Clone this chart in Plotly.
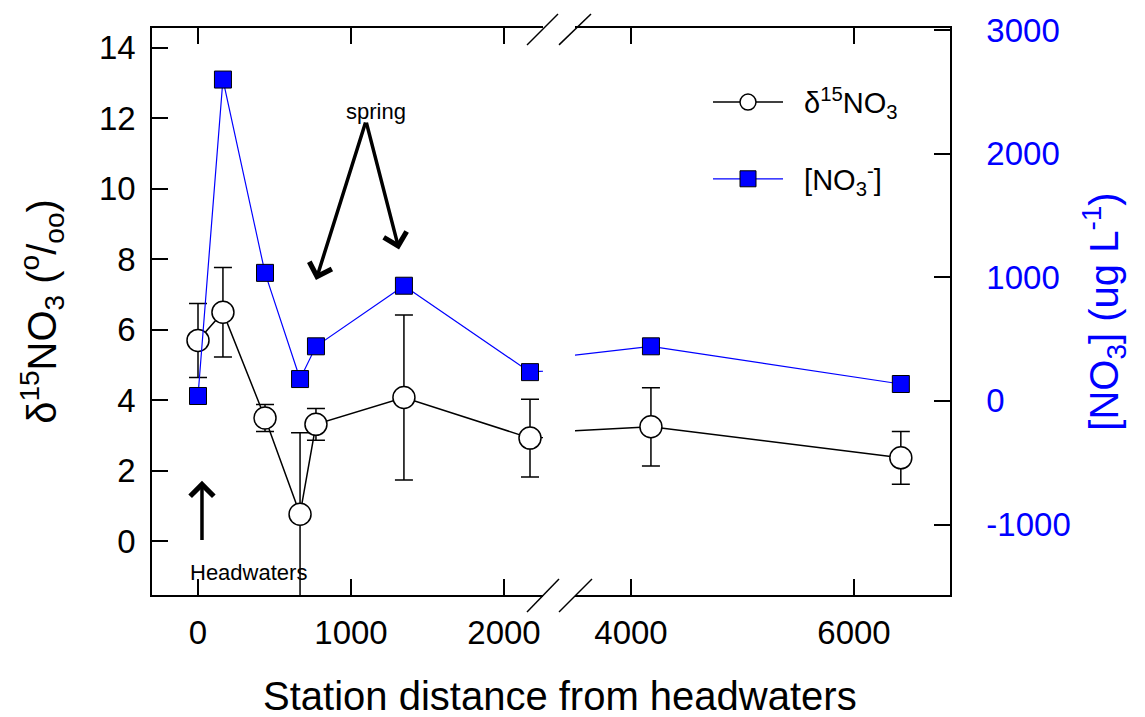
import plotly.graph_objects as go

# ---- data ----
distance = [0, 163, 438, 667, 771, 1346, 2170, 4179, 6420]
d15n = [5.7, 6.5, 3.5, 0.77, 3.32, 4.08, 2.93, 3.25, 2.37]
d15n_err = [1.05, 1.27, 0.38, 2.31, 0.45, 2.34, 1.1, 1.11, 0.75]
no3 = [40, 2600, 1036, 177, 442, 932, 233, 442, 137]

left_ticks = [0, 1000, 2000]
right_ticks = [4000, 6000]
y_ticks = [0, 2, 4, 6, 8, 10, 12, 14]
y2_ticks = [-1000, 0, 1000, 2000, 3000]
y2_tick_labels = ["-1000", "0", "1000", "2000", "3000"]

FONT = "Arial, Liberation Sans, sans-serif"
W, H = 1145, 717
L, R, T, B = 152, 950, 25, 595
BREAK_L, BREAK_R = 543, 575

def px(xp):
    return (xp - L) / (R - L)

def py(yp):
    return (B - yp) / (B - T)

fig = go.Figure()

for xa, show in (("x", True), ("x2", False)):
    fig.add_trace(go.Scatter(
        x=distance, y=d15n, xaxis=xa, yaxis="y",
        mode="lines+markers", name="&nbsp;&nbsp;δ<sup>15</sup>NO<sub>3</sub>",
        line=dict(color="black", width=1.5),
        marker=dict(symbol="circle", size=22, color="white",
                    line=dict(color="black", width=1.5)),
        error_y=dict(type="data", array=d15n_err, color="black",
                     thickness=1.5, width=9),
        showlegend=show, legendgroup="a", legendrank=1,
    ))
    fig.add_trace(go.Scatter(
        x=distance, y=no3, xaxis=xa, yaxis="y2",
        mode="lines+markers", name="&nbsp;&nbsp;[NO<sub>3</sub><sup>-</sup>]",
        line=dict(color="#0000ff", width=1.2),
        marker=dict(symbol="square", size=17, color="#0000ff",
                    line=dict(color="black", width=1)),
        showlegend=show, legendgroup="b", legendrank=2,
    ))

axis_common = dict(showline=True, linecolor="black", linewidth=1.5,
                   ticks="inside", tickcolor="black", tickwidth=1.5,
                   ticklen=16, showgrid=False, zeroline=False,
                   tickfont=dict(family=FONT, size=33, color="black"))

fig.update_layout(
    width=W, height=H, autosize=False,
    margin=dict(l=L, r=W - R, t=T, b=H - B),
    plot_bgcolor="white", paper_bgcolor="white",
    xaxis=dict(domain=[0, px(BREAK_L)], range=[-300.7, 2255],
               tickvals=left_ticks, mirror="ticks", anchor="y",
               ticklabelstandoff=8, **axis_common),
    xaxis2=dict(domain=[px(BREAK_R), 1], range=[3498, 6861],
                tickvals=right_ticks, mirror="ticks", anchor="y",
                ticklabelstandoff=8, **axis_common),
    yaxis=dict(range=[-1.52, 14.56], tickvals=y_ticks, anchor="x",
               side="left", ticklabelstandoff=8,
               title=dict(text="δ<sup>15</sup>NO<sub>3</sub> (<sup>o</sup>/<sub>oo</sub>)",
                          font=dict(family=FONT, size=40, color="black"),
                          standoff=30),
               **axis_common),
    yaxis2=dict(range=[-1570, 3017], tickvals=y2_ticks, ticktext=y2_tick_labels,
                anchor="x2", overlaying="y", side="right", ticklabelstandoff=28,
                title=dict(text="[NO<sub>3</sub>] (ug L<sup>-1</sup>)",
                           font=dict(family=FONT, size=40, color="#0000ff"),
                           standoff=20),
                **{**axis_common,
                   "tickfont": dict(family=FONT, size=33, color="#0000ff")}),
    legend=dict(x=px(708), y=py(74), xanchor="left", yanchor="top",
                bgcolor="rgba(0,0,0,0)", itemwidth=70, tracegroupgap=36,
                font=dict(family=FONT, size=29, color="black"),
                traceorder="grouped"),
    showlegend=True,
)

# x-axis title as annotation centred under whole axis
fig.add_annotation(text="Station distance from headwaters", xref="paper", yref="paper",
                   x=px(560), y=py(697), xanchor="center", yanchor="middle",
                   showarrow=False, font=dict(family=FONT, size=40, color="black"))

# break marks
for (x0, y0, x1, y1) in [(527, 42, 558, 11), (559, 42, 591, 11),
                         (527, 612, 559, 579), (559, 612, 592, 579)]:
    fig.add_shape(type="line", xref="paper", yref="paper",
                  x0=px(x0), y0=py(y0), x1=px(x1), y1=py(y1),
                  line=dict(color="black", width=1.5))

# annotations
fig.add_annotation(text="spring", x=1163, y=12.2, xref="x", yref="y",
                   showarrow=False, font=dict(family=FONT, size=22, color="black"))
for hx, hy in [(771, 7.41), (1314, 8.28)]:
    fig.add_annotation(text="", x=hx, y=hy, ax=1098, ay=11.92,
                       xref="x", yref="y", axref="x", ayref="y",
                       showarrow=True, arrowhead=4, arrowwidth=3.5,
                       arrowsize=1.3, arrowcolor="black")
fig.add_annotation(text="", x=26, y=1.72, ax=26, ay=0.0,
                   xref="x", yref="y", axref="x", ayref="y",
                   showarrow=True, arrowhead=4, arrowwidth=3.5,
                   arrowsize=1.3, arrowcolor="black")
fig.add_annotation(text="Headwaters", x=327, y=-0.87, xref="x", yref="y",
                   showarrow=False, font=dict(family=FONT, size=22, color="black"))

fig.write_html("out.html")
